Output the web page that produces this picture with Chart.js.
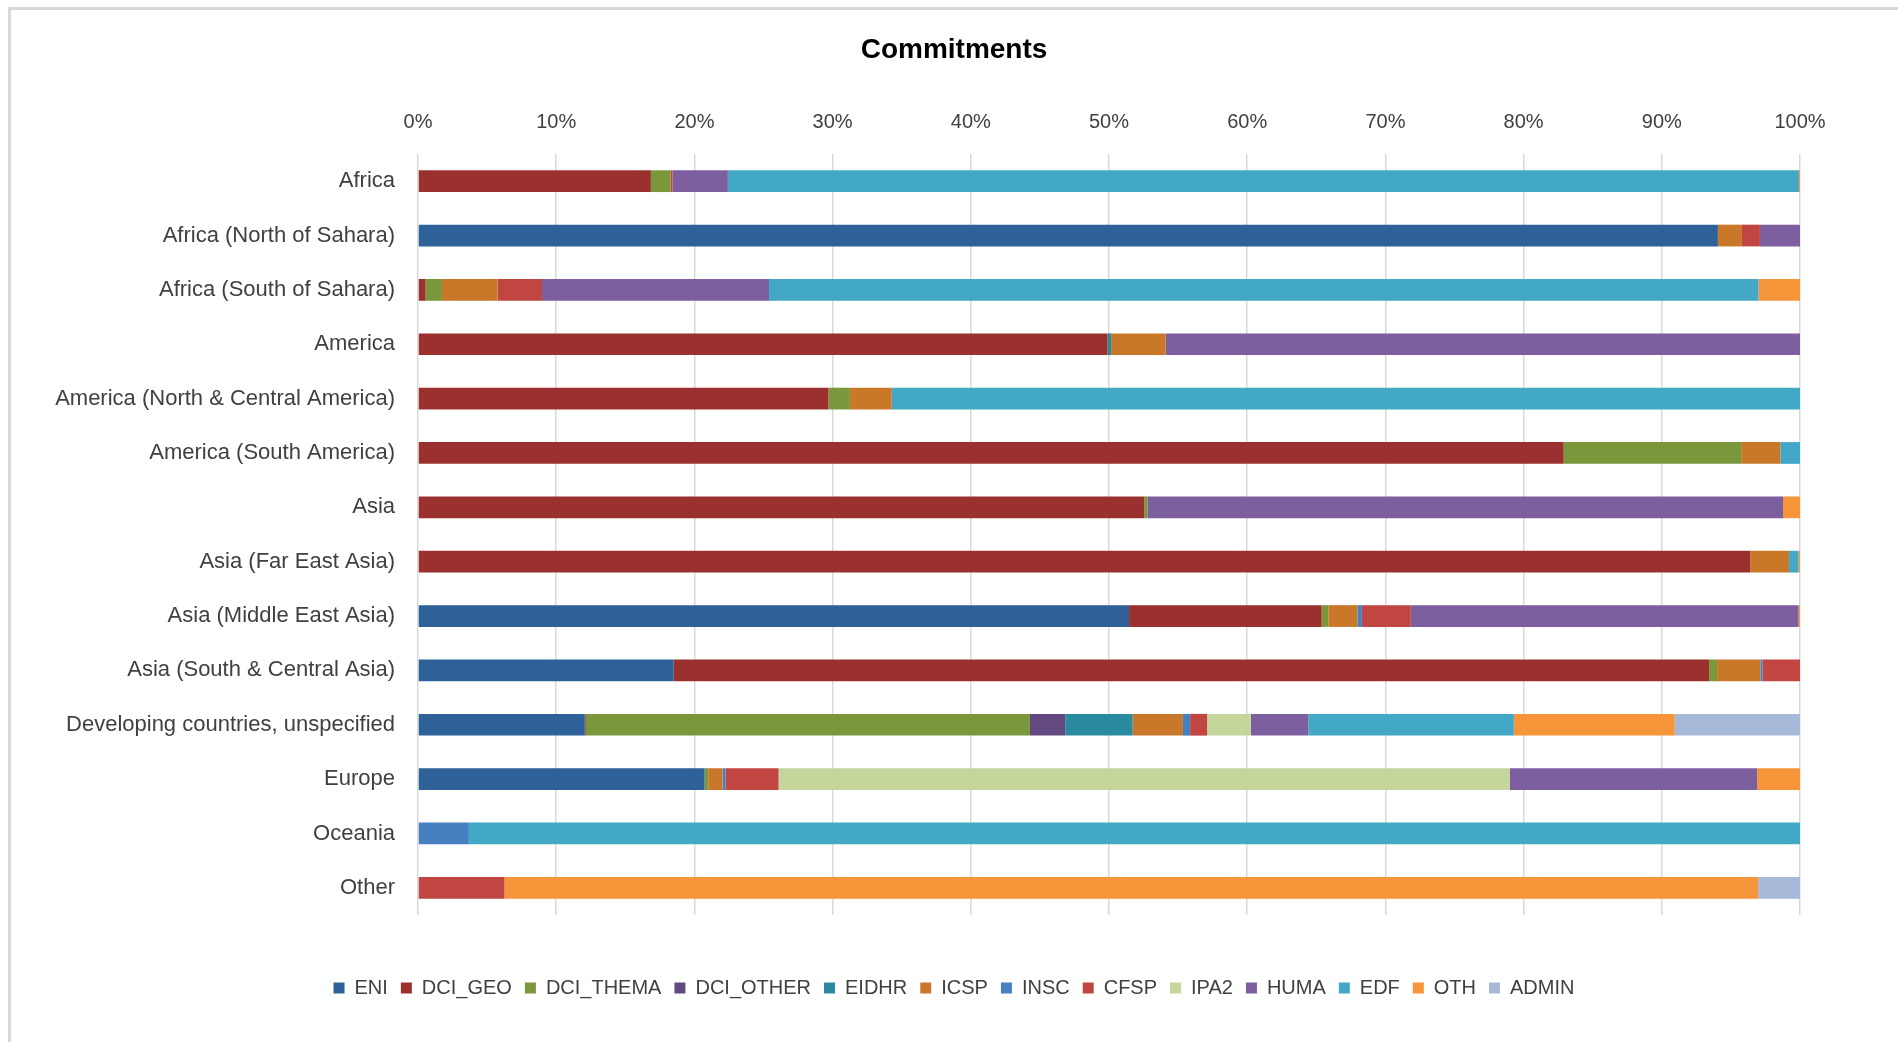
<!DOCTYPE html>
<html>
<head>
<meta charset="utf-8">
<title>Commitments</title>
<script src="https://cdn.jsdelivr.net/npm/chart.js@4/dist/chart.umd.min.js"></script>
<style>
    html, body { margin: 0; padding: 0; background: #fff; overflow: hidden; }
    #frame {
        position: absolute; left: 8px; top: 7px; width: 1900px; height: 1045px;
        border-top: 3px solid #d9d9d9; border-left: 3px solid #d9d9d9;
    }
    #chart { position: absolute; left: 0; top: 0; }
</style>
</head>
<body>
<div id="frame"></div>
<canvas id="chart" width="1898" height="1042"></canvas>
<script>
// categories (top to bottom)
const regions = [
    'Africa', 'Africa (North of Sahara)', 'Africa (South of Sahara)', 'America',
    'America (North & Central America)', 'America (South America)', 'Asia',
    'Asia (Far East Asia)', 'Asia (Middle East Asia)', 'Asia (South & Central Asia)',
    'Developing countries, unspecified', 'Europe', 'Oceania', 'Other'
];

// share of commitments per instrument, % of each region (same order as regions)
const ENI       = [0, 94.06, 0, 0, 0, 0, 0, 0, 51.45, 18.5, 12.07, 20.74, 0, 0];
const DCI_GEO   = [16.85, 0, 0.55, 49.9, 29.7, 82.9, 52.55, 96.4, 13.94, 74.92, 0.07, 0, 0, 0];
const DCI_THEMA = [1.42, 0, 1.18, 0, 1.55, 12.84, 0.25, 0, 0.48, 0.58, 32.14, 0.26, 0, 0];
const DCI_OTHER = [0, 0, 0, 0, 0, 0, 0, 0, 0, 0, 2.55, 0, 0, 0];
const EIDHR     = [0, 0, 0, 0.25, 0, 0, 0, 0, 0, 0, 4.88, 0, 0, 0];
const ICSP      = [0, 1.74, 4.03, 3.95, 3.03, 2.84, 0, 2.8, 2.1, 3.13, 3.64, 1.03, 0, 0];
const INSC      = [0, 0, 0, 0, 0, 0, 0, 0, 0.33, 0.17, 0.52, 0.22, 3.68, 0];
const CFSP      = [0.15, 1.3, 3.21, 0, 0, 0, 0, 0, 3.54, 2.7, 1.23, 3.84, 0, 6.26];
const IPA2      = [0, 0, 0, 0, 0, 0, 0, 0, 0, 0, 3.16, 52.91, 0, 0];
const HUMA      = [4.0, 2.9, 16.43, 45.9, 0, 0, 45.97, 0, 28.06, 0, 4.16, 17.9, 0, 0];
const EDF       = [77.5, 0, 71.6, 0, 65.72, 1.42, 0, 0.7, 0, 0, 14.87, 0, 96.32, 0];
const OTH       = [0.08, 0, 3.0, 0, 0, 0, 1.23, 0.1, 0.1, 0, 11.65, 3.1, 0, 90.71];
const ADMIN     = [0, 0, 0, 0, 0, 0, 0, 0, 0, 0, 9.06, 0, 0, 3.03];

const xTicks = [0, 10, 20, 30, 40, 50, 60, 70, 80, 90, 100];

const series = [
    { label: 'ENI',       data: ENI,       color: '#2e6197' },
    { label: 'DCI_GEO',   data: DCI_GEO,   color: '#9a312f' },
    { label: 'DCI_THEMA', data: DCI_THEMA, color: '#7a973b' },
    { label: 'DCI_OTHER', data: DCI_OTHER, color: '#624a80' },
    { label: 'EIDHR',     data: EIDHR,     color: '#2a8a9f' },
    { label: 'ICSP',      data: ICSP,      color: '#c97829' },
    { label: 'INSC',      data: INSC,      color: '#4680bf' },
    { label: 'CFSP',      data: CFSP,      color: '#c14642' },
    { label: 'IPA2',      data: IPA2,      color: '#c4d69b' },
    { label: 'HUMA',      data: HUMA,      color: '#7d5e9f' },
    { label: 'EDF',       data: EDF,       color: '#42a8c6' },
    { label: 'OTH',       data: OTH,       color: '#f69539' },
    { label: 'ADMIN',     data: ADMIN,     color: '#a7b9d8' }
];

const FONT = "'Liberation Sans', Arial, sans-serif";
const PAD_LEFT = 10;
const PLOT_LEFT = 418;   // 0% line
const PLOT_RIGHT = 1800; // 100% line
const PLOT_TOP = 154;
const TITLE_SIZE = 28;
const TITLE_PAD_TOP = 50 - TITLE_SIZE * 0.6;
const TITLE_BLOCK = TITLE_PAD_TOP + TITLE_SIZE * 1.2 + 10;

new Chart(document.getElementById('chart'), {
    type: 'bar',
    data: {
        labels: regions,
        datasets: series.map(s => ({
            label: s.label,
            data: s.data,
            backgroundColor: s.color,
            borderWidth: 0,
            barPercentage: 0.4,
            categoryPercentage: 1.0
        }))
    },
    options: {
        indexAxis: 'y',
        responsive: false,
        animation: false,
        devicePixelRatio: 1,
        layout: { padding: { left: PAD_LEFT, right: 0, top: 0, bottom: 34 } },
        scales: {
            x: {
                position: 'top',
                stacked: true,
                min: 0,
                max: 100,
                afterBuildTicks: scale => { scale.ticks = xTicks.map(v => ({ value: v })); },
                afterFit: scale => { scale.height = PLOT_TOP - TITLE_BLOCK; },
                grid: { color: '#d9d9d9', lineWidth: 1.5, drawTicks: false },
                border: { display: false },
                ticks: {
                    padding: 20,
                    color: '#404040',
                    font: { family: FONT, size: 20 },
                    callback: v => v + '%'
                }
            },
            y: {
                stacked: true,
                afterFit: scale => { scale.width = PLOT_LEFT - PAD_LEFT; },
                grid: { display: false, drawTicks: false },
                border: { display: false },
                ticks: {
                    padding: 23,
                    color: '#404040',
                    font: { family: FONT, size: 22 }
                }
            },
            // empty right margin so the title and legend centre like the original
            yRight: {
                type: 'category',
                position: 'right',
                grid: { display: false, drawTicks: false },
                border: { display: false },
                ticks: { display: false },
                afterFit: scale => { scale.width = 1898 - PLOT_RIGHT; }
            }
        },
        plugins: {
            title: {
                display: true,
                text: 'Commitments',
                color: '#000',
                font: { family: FONT, size: TITLE_SIZE, weight: 'bold', lineHeight: 1.2 },
                padding: { top: TITLE_PAD_TOP, bottom: 10 }
            },
            legend: {
                position: 'bottom',
                title: {
                    display: true,
                    text: ' ',
                    font: { size: 10, lineHeight: 1 },
                    padding: { top: 40, bottom: 0 }
                },
                labels: {
                    boxWidth: 11,
                    boxHeight: 11,
                    padding: 13,
                    color: '#404040',
                    font: { family: FONT, size: 20 }
                }
            },
            tooltip: { enabled: false }
        }
    }
});
</script>
</body>
</html>
